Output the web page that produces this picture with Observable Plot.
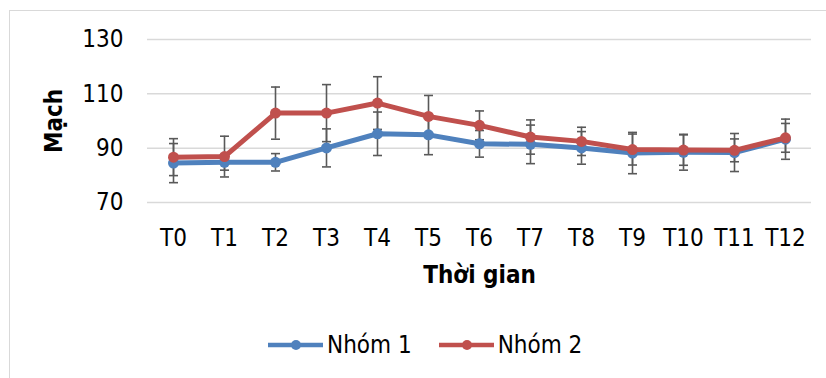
<!DOCTYPE html>
<html><head><meta charset="utf-8">
<script src="https://cdn.jsdelivr.net/npm/d3@7"></script>
<script src="https://cdn.jsdelivr.net/npm/@observablehq/plot@0.6"></script>
<style>
html,body{margin:0;padding:0;background:#fff;}
#root{position:relative;width:826px;height:378px;overflow:hidden;font-family:"DejaVu Sans Condensed","DejaVu Sans",sans-serif;font-stretch:condensed;}
#frame{position:absolute;left:9px;top:10px;width:830px;height:380px;border-left:1.5px solid #d9d9d9;border-top:1.5px solid #d9d9d9;}
#chart{position:absolute;left:0;top:0;}
#legend{position:absolute;left:268px;top:330px;display:flex;align-items:center;font-size:24px;line-height:30px;color:#000;}
.item{display:flex;align-items:center;margin-right:27px;}
.item svg{margin-right:4px;}
</style>
</head><body>
<div id="root"><div id="frame"></div><div id="chart"></div><div id="legend"></div></div>
<script>
const times = ["T0","T1","T2","T3","T4","T5","T6","T7","T8","T9","T10","T11","T12"];
const group1 = [84.5, 84.8, 84.8, 90.1, 95.3, 94.9, 91.6, 91.4, 90.1, 88.2, 88.5, 88.4, 93.3];
const group1Err = [7.2, 2.9, 3.2, 7.0, 8.0, 7.3, 4.9, 7.1, 6.0, 7.6, 6.6, 7.0, 7.4];
const group2 = [86.7, 86.9, 102.9, 102.9, 106.6, 101.7, 98.4, 94.1, 92.5, 89.5, 89.3, 89.2, 93.8];
const group2Err = [6.8, 7.5, 9.6, 10.5, 9.7, 7.7, 5.3, 6.3, 5.2, 5.7, 5.6, 4.2, 5.3];
const seriesNames = ["Nhóm 1", "Nhóm 2"];
const seriesColors = ["#4f81bd", "#c0504d"];
const yTicks = [70, 90, 110, 130];
const xTitle = "Thời gian";
const yTitle = "Mạch";

const rows = [];
[group1, group2].forEach((vals, s) => {
  const errs = s === 0 ? group1Err : group2Err;
  vals.forEach((v, i) => rows.push({t: times[i], v, lo: v - errs[i], hi: v + errs[i], s: seriesNames[s]}));
});
const capSymbol = {draw(ctx) { ctx.moveTo(-4.5, 0); ctx.lineTo(4.5, 0); }};
const errColor = "#595959";
const fontFam = '"DejaVu Sans Condensed","DejaVu Sans",sans-serif';

const marks = [
  Plot.ruleY(yTicks, {stroke: "#d9d9d9", strokeWidth: 1.5}),
  Plot.ruleX(rows, {x: "t", y1: "lo", y2: "hi", stroke: errColor, strokeWidth: 1.6}),
  Plot.dot(rows, {x: "t", y: "lo", symbol: capSymbol, stroke: errColor, strokeWidth: 1.6, fill: "none"}),
  Plot.dot(rows, {x: "t", y: "hi", symbol: capSymbol, stroke: errColor, strokeWidth: 1.6, fill: "none"})
];
seriesNames.forEach((name, s) => {
  const d = rows.filter(r => r.s === name);
  marks.push(Plot.line(d, {x: "t", y: "v", stroke: seriesColors[s], strokeWidth: 5, strokeLinejoin: "round"}));
  marks.push(Plot.dot(d, {x: "t", y: "v", r: 5.5, fill: seriesColors[s], stroke: "none"}));
});
marks.push(Plot.text([xTitle], {text: d => d, frameAnchor: "bottom", dy: 73, lineAnchor: "middle", textAnchor: "middle", fontWeight: "bold", fontSize: 24, fontFamily: '"DejaVu Sans",sans-serif', fill: "#000"}));
marks.push(Plot.text([yTitle], {text: d => d, frameAnchor: "left", dx: -93, rotate: -90, lineAnchor: "middle", textAnchor: "middle", fontWeight: "bold", fontSize: 24, fontFamily: '"DejaVu Sans",sans-serif', fill: "#000"}));

const chart = Plot.plot({
  width: 826, height: 320,
  marginLeft: 147, marginRight: 15, marginTop: 39, marginBottom: 118,
  style: {fontFamily: fontFam, fontSize: "24px", color: "#000", background: "transparent", overflow: "visible", fontStretch: "condensed"},
  x: {type: "point", domain: times, padding: 0.5, tickSize: 0, tickPadding: 26, label: null},
  y: {domain: [70, 130], ticks: yTicks, tickSize: 0, tickPadding: 24, label: null, tickFormat: d => String(d)},
  marks
});
document.getElementById("chart").appendChild(chart);

const legend = d3.select("#legend");
seriesNames.forEach((name, s) => {
  const it = legend.append("div").attr("class", "item");
  const sv = it.append("svg").attr("width", 55).attr("height", 14);
  sv.append("line").attr("x1", 0).attr("x2", 55).attr("y1", 7).attr("y2", 7).attr("stroke", seriesColors[s]).attr("stroke-width", 4.5).attr("stroke-linecap", "round");
  sv.append("circle").attr("cx", 28).attr("cy", 7).attr("r", 5).attr("fill", seriesColors[s]);
  it.append("span").text(name);
});
</script>
</body></html>
